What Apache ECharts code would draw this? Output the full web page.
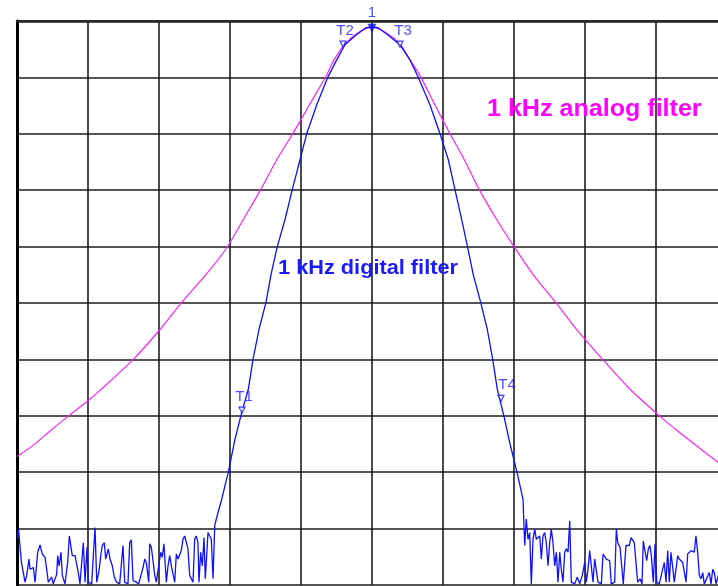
<!DOCTYPE html>
<html>
<head>
<meta charset="utf-8">
<script src="https://cdn.jsdelivr.net/npm/echarts@6/dist/echarts.min.js"></script>
<style>
html,body{margin:0;padding:0;background:#fff;overflow:hidden;}
#c{width:732px;height:586px;}
</style>
</head>
<body>
<div id="c"></div>
<script>
// Frequency offset (divisions from centre) and level (dB, reference level 0 at top)
const leftNoiseFreq = [-4.996,-4.979,-4.951,-4.937,-4.915,-4.887,-4.863,-4.831,-4.817,-4.789,
-4.770,-4.746,-4.708,-4.676,-4.644,-4.606,-4.582,-4.559,-4.511,-4.489,
-4.441,-4.427,-4.408,-4.380,-4.362,-4.324,-4.286,-4.263,-4.239,-4.221,
-4.183,-4.159,-4.137,-4.113,-4.066,-4.042,-4.014,-3.996,-3.948,-3.901,
-3.877,-3.845,-3.817,-3.799,-3.770,-3.751,-3.714,-3.690,-3.658,-3.630,
-3.596,-3.554,-3.507,-3.483,-3.437,-3.413,-3.390,-3.366,-3.320,-3.286,
-3.225,-3.201,-3.179,-3.145,-3.131,-3.108,-3.085,-3.061,-3.038,-2.976,
-2.954,-2.930,-2.897,-2.873,-2.849,-2.827,-2.779,-2.756,-2.732,-2.708,
-2.686,-2.662,-2.638,-2.615,-2.592,-2.568,-2.521,-2.497,-2.475,-2.451,
-2.437,-2.413,-2.390,-2.366,-2.348,-2.334,-2.310,-2.286,-2.263,-2.239,-2.215];
const leftNoiseLevel = [-91.9,-90.1,-89.8,-96.0,-96.0,-99.5,-98.3,-95.4,-97.2,-97.2,
-96.9,-99.5,-94.2,-92.9,-94.5,-95.1,-97.2,-99.5,-98.6,-99.8,
-98.1,-94.8,-96.6,-94.2,-98.3,-99.8,-96.0,-91.3,-91.6,-94.8,
-94.8,-94.5,-97.8,-99.8,-92.5,-99.5,-93.3,-99.5,-99.8,-89.8,
-99.5,-97.5,-94.5,-93.0,-92.5,-95.4,-93.6,-95.4,-96.6,-98.6,
-99.5,-99.8,-93.0,-99.5,-99.8,-92.5,-92.0,-99.2,-99.5,-99.8,
-96.9,-95.4,-96.0,-99.5,-92.7,-93.3,-93.6,-98.1,-99.5,-94.2,
-95.1,-92.7,-99.5,-96.6,-94.8,-96.6,-99.5,-94.5,-95.4,-95.1,
-93.9,-91.9,-91.3,-91.0,-93.6,-98.3,-99.5,-91.9,-91.3,-92.5,
-99.5,-94.2,-96.6,-91.6,-98.9,-96.0,-90.7,-90.4,-91.9,-98.9,-89.5];

const lobeFreq = [-2.193,-2.117,-2.024,-1.930,-1.849,-1.742,-1.676,-1.592,-1.493,-1.423,
-1.334,-1.225,-1.123,-1.014,-0.920,-0.779,-0.620,-0.497,-0.380,-0.225,
-0.085,0,0.085,0.225,0.394,0.535,0.648,0.817,0.958,1.075,
1.169,1.263,1.345,1.427,1.531,1.624,1.700,1.765,1.859,1.944,2.042,2.127];
const lobeLevel = [-88.3,-84.8,-80.0,-74.2,-70.1,-65.3,-60.0,-54.7,-49.9,-45.0,
-40.0,-35.2,-29.9,-24.6,-20.0,-14.9,-9.9,-6.9,-4.2,-2.5,
-1.2,-1.1,-1.2,-2.5,-4.2,-6.9,-9.9,-14.9,-20.0,-24.6,
-29.9,-35.2,-40.0,-45.0,-49.9,-54.7,-60.0,-65.3,-70.1,-75.0,-80.0,-84.8];

const rightNoiseFreq = [2.151,2.173,2.197,2.221,2.244,2.268,2.292,2.314,2.338,2.362,
2.385,2.408,2.432,2.455,2.479,2.503,2.525,2.549,2.573,2.596,
2.620,2.644,2.666,2.690,2.714,2.737,2.761,2.785,2.807,2.855,
2.892,2.925,2.962,2.996,3.018,3.042,3.066,3.089,3.113,3.137,
3.159,3.183,3.230,3.254,3.277,3.300,3.324,3.348,3.370,3.418,
3.441,3.461,3.493,3.521,3.539,3.577,3.601,3.624,3.648,3.672,
3.694,3.718,3.742,3.775,3.803,3.821,3.845,3.869,3.892,3.915,
3.934,3.962,3.986,4.010,4.046,4.117,4.141,4.165,4.187,4.211,
4.235,4.258,4.306,4.328,4.352,4.376,4.399,4.423,4.446,4.469,
4.493,4.517,4.539,4.563,4.587,4.610,4.634,4.658,4.680,4.751,
4.775,4.799,4.821,4.845,4.901,4.944,5.000];
const rightNoiseLevel = [-93.0,-88.3,-91.9,-90.7,-99.8,-91.9,-90.1,-91.9,-91.6,-91.3,
-95.4,-91.3,-90.7,-92.5,-96.6,-92.5,-90.1,-92.5,-96.6,-94.2,
-99.5,-94.2,-97.2,-99.5,-94.2,-93.6,-94.2,-88.6,-99.5,-99.8,
-98.6,-99.8,-98.3,-96.0,-99.5,-97.2,-93.9,-94.2,-99.5,-95.4,
-95.4,-99.5,-99.8,-94.5,-94.8,-95.4,-95.1,-95.7,-99.8,-99.5,
-90.1,-92.5,-93.3,-97.2,-99.8,-93.0,-92.7,-93.0,-91.6,-91.9,
-92.5,-92.7,-99.5,-98.9,-99.8,-92.2,-92.5,-95.7,-93.6,-93.0,
-94.8,-99.5,-92.7,-99.5,-99.8,-96.0,-99.5,-93.9,-99.5,-94.2,
-94.2,-99.5,-94.8,-95.4,-95.7,-96.0,-96.3,-99.5,-94.5,-94.2,
-93.9,-93.6,-94.2,-91.3,-94.2,-98.3,-98.9,-97.8,-99.8,-97.8,
-99.8,-97.2,-97.8,-99.8,-97.2,-99.5,-98.3];

const analogFreq = [-5.000,-4.770,-4.535,-4.282,-3.996,-3.831,-3.362,-2.986,-2.680,-2.328,
-2.045,-1.813,-1.568,-1.342,-1.117,-0.883,-0.652,-0.535,-0.380,-0.197,
0,0.197,0.394,0.535,0.686,0.887,1.099,1.300,1.511,1.756,
2.000,2.272,2.587,2.883,3.249,3.634,4.056,4.314,4.620,4.873,5.000];
const analogLevel = [-77.2,-75.2,-72.7,-70.1,-67.3,-65.5,-60.0,-54.7,-49.9,-44.8,
-40.2,-35.2,-29.9,-24.6,-20.0,-14.9,-9.9,-6.9,-4.1,-2.1,
-1.1,-2.1,-4.1,-6.9,-9.9,-14.9,-20.0,-24.6,-29.9,-35.2,
-40.0,-45.0,-49.9,-54.7,-60.0,-65.3,-70.1,-72.8,-75.8,-78.2,-79.1];

const markerNames = ['T1','T2','T3','T4'];
const markerFreq = [-1.831,-0.408,0.394,1.817];
const markerLevel = [-69.0,-4.1,-4.1,-66.9];
const peakName = '1';
const peakFreq = 0;
const peakLevel = -1.3;

const analogLabel = '1 kHz analog filter';
const digitalLabel = '1 kHz digital filter';

function zip(xs, ys){ const n=Math.min(xs.length, ys.length); const out=[]; for(let i=0;i<n;i++) out.push([xs[i], ys[i]]); return out; }

const digitalData = zip(leftNoiseFreq, leftNoiseLevel).concat(zip(lobeFreq, lobeLevel), zip(rightNoiseFreq, rightNoiseLevel));
const analogData = zip(analogFreq, analogLevel);
const markerData = markerNames.map((n,i)=>({name:n, value:[markerFreq[i], markerLevel[i]],
  label:{offset: n==='T4' ? [6,0] : (n==='T3' ? [3,0] : [2,0])}}));

const chart = echarts.init(document.getElementById('c'), null, {renderer:'canvas'});
const gridCol = '#1c1c1c';
chart.setOption({
  animation:false,
  backgroundColor:'#ffffff',
  grid:{left:17, top:21, width:710, height:564, outerBoundsMode:'none'},
  xAxis:{type:'value', min:-5, max:5, interval:1, position:'top',
    axisLine:{show:true, onZero:false, lineStyle:{color:'#222', width:2.5}},
    axisTick:{show:false}, axisLabel:{show:false},
    splitLine:{show:true, lineStyle:{color:gridCol, width:1.6}}},
  yAxis:{type:'value', min:-100, max:0, interval:10,
    axisLine:{show:true, onZero:false, lineStyle:{color:'#000', width:3}},
    axisTick:{show:false}, axisLabel:{show:false},
    splitLine:{show:true, lineStyle:{color:gridCol, width:1.6}}},
  series:[
    {type:'line', name:'analog', data:analogData, smooth:0.3, showSymbol:false,
      lineStyle:{color:'#ff22ff', width:1.2}, z:3},
    {type:'line', name:'digital', data:digitalData, smooth:false, showSymbol:false,
      lineStyle:{color:'#1010ff', width:1.3}, z:4},
    {type:'scatter', name:'markers', data:markerData, symbol:'triangle', symbolRotate:180,
      symbolSize:[6,6], itemStyle:{color:'#ffffff', borderColor:'#1010ff', borderWidth:1.2}, z:6,
      label:{show:true, position:'top', distance:2, formatter:p=>p.name, color:'#2020ff',
        fontFamily:'Liberation Sans', fontSize:15}},
    {type:'scatter', name:'peak', data:[{name:peakName, value:[peakFreq, peakLevel]}], symbol:'triangle', symbolRotate:180,
      symbolSize:[9,9], itemStyle:{color:'#1010ff'}, z:6,
      label:{show:true, position:'top', distance:3, formatter:p=>p.name, color:'#2020ff',
        fontFamily:'Liberation Sans', fontSize:15}}
  ],
  graphic:[
    {type:'text', x:487, y:97, scaleX:1.045, z:10, style:{text:analogLabel, fill:'#ff00ff',
      font:'bold 24px "Liberation Sans", Arial, sans-serif'}},
    {type:'text', x:278, y:258, scaleX:1.035, z:10, style:{text:digitalLabel, fill:'#1a1aff',
      font:'bold 21px "Liberation Sans", Arial, sans-serif'}}
  ]
});
</script>
</body>
</html>
